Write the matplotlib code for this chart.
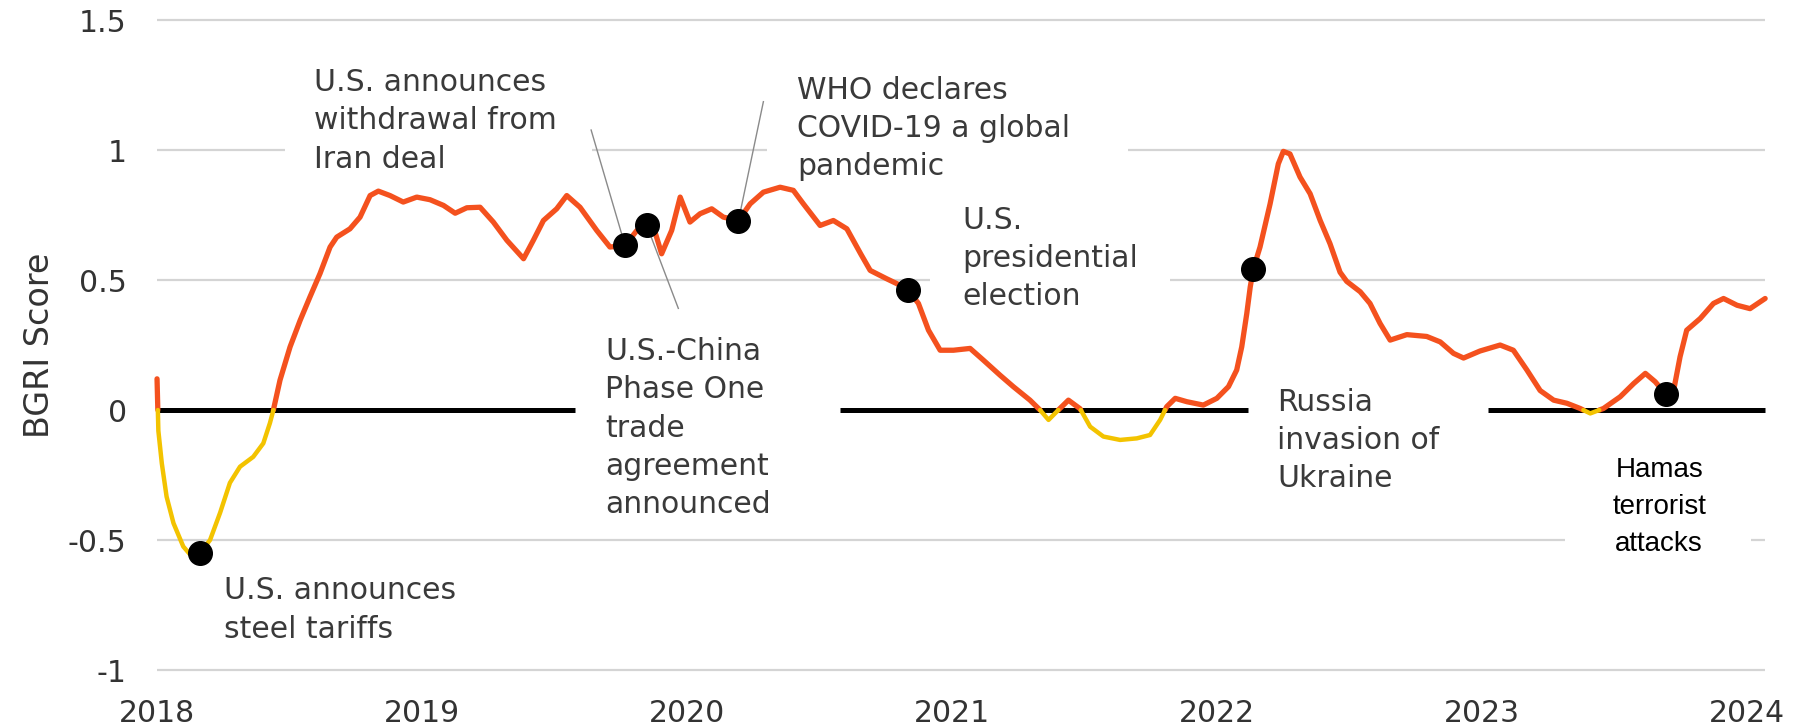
import matplotlib.pyplot as plt
import numpy as np

# BGRI score
years = [
    2018.000, 2018.005, 2018.018, 2018.036, 2018.062, 2018.099, 2018.131, 2018.162,
    2018.200, 2018.238, 2018.275, 2018.313, 2018.363, 2018.401, 2018.426, 2018.439,
    2018.464, 2018.502, 2018.540, 2018.577, 2018.615, 2018.653, 2018.678, 2018.728,
    2018.766, 2018.804, 2018.835, 2018.879, 2018.929, 2018.980, 2019.030, 2019.081,
    2019.125, 2019.169, 2019.219, 2019.269, 2019.320, 2019.383, 2019.420, 2019.458,
    2019.508, 2019.546, 2019.596, 2019.659, 2019.709, 2019.766, 2019.810, 2019.848,
    2019.879, 2019.904, 2019.942, 2019.974, 2020.011, 2020.049, 2020.093, 2020.137,
    2020.194, 2020.238, 2020.288, 2020.351, 2020.401, 2020.439, 2020.502, 2020.552,
    2020.603, 2020.655, 2020.691, 2020.753, 2020.804, 2020.835, 2020.873, 2020.911,
    2020.955, 2021.005, 2021.068, 2021.118, 2021.181, 2021.231, 2021.294, 2021.332,
    2021.364, 2021.401, 2021.439, 2021.483, 2021.521, 2021.571, 2021.634, 2021.697,
    2021.747, 2021.785, 2021.810, 2021.842, 2021.886, 2021.948, 2021.999, 2022.043,
    2022.074, 2022.093, 2022.112, 2022.125, 2022.137, 2022.162, 2022.200, 2022.231,
    2022.250, 2022.275, 2022.313, 2022.351, 2022.389, 2022.426, 2022.464, 2022.489,
    2022.540, 2022.577, 2022.615, 2022.653, 2022.716, 2022.791, 2022.842, 2022.892,
    2022.930, 2022.992, 2023.068, 2023.118, 2023.169, 2023.219, 2023.270, 2023.320,
    2023.370, 2023.408, 2023.458, 2023.521, 2023.572, 2023.616, 2023.653, 2023.694,
    2023.723, 2023.747, 2023.772, 2023.823, 2023.873, 2023.911, 2023.962, 2024.011,
    2024.068,
]
bgri = [
    0.120, -0.080, -0.205, -0.333, -0.435, -0.525, -0.563, -0.550,
    -0.500, -0.395, -0.280, -0.218, -0.180, -0.128, -0.050, 0.000,
    0.115, 0.243, 0.345, 0.435, 0.525, 0.627, 0.665, 0.697,
    0.742, 0.825, 0.842, 0.825, 0.800, 0.819, 0.809, 0.787,
    0.757, 0.778, 0.780, 0.723, 0.653, 0.582, 0.653, 0.729,
    0.774, 0.825, 0.780, 0.691, 0.627, 0.633, 0.690, 0.710,
    0.685, 0.601, 0.691, 0.819, 0.723, 0.755, 0.774, 0.742,
    0.729, 0.793, 0.838, 0.857, 0.845, 0.793, 0.710, 0.729,
    0.697, 0.601, 0.537, 0.505, 0.480, 0.461, 0.410, 0.307,
    0.230, 0.230, 0.237, 0.192, 0.134, 0.090, 0.038, 0.000,
    -0.038, 0.000, 0.038, 0.005, -0.064, -0.102, -0.115, -0.109,
    -0.096, -0.038, 0.013, 0.045, 0.032, 0.019, 0.045, 0.090,
    0.154, 0.243, 0.371, 0.473, 0.544, 0.627, 0.793, 0.947,
    0.995, 0.985, 0.896, 0.832, 0.729, 0.640, 0.530, 0.495,
    0.455, 0.410, 0.333, 0.269, 0.290, 0.283, 0.262, 0.218,
    0.200, 0.227, 0.250, 0.230, 0.154, 0.075, 0.038, 0.026,
    0.006, -0.013, 0.006, 0.051, 0.102, 0.141, 0.109, 0.060,
    0.077, 0.205, 0.307, 0.352, 0.410, 0.429, 0.403, 0.390,
    0.429,
]

# events marked with a dot
event_years = [2018.162, 2019.766, 2019.848, 2020.194, 2020.835, 2022.137, 2023.694]
event_labels = [
    "U.S. announces\nsteel tariffs",
    "U.S. announces\nwithdrawal from\nIran deal",
    "U.S.-China\nPhase One\ntrade\nagreement\nannounced",
    "WHO declares\nCOVID-19 a global\npandemic",
    "U.S.\npresidential\nelection",
    "Russia\ninvasion of\nUkraine",
    "Hamas\nterrorist\nattacks",
]

y_ticks = [-1, -0.5, 0, 0.5, 1, 1.5]
y_tick_labels = ["-1", "-0.5", "0", "0.5", "1", "1.5"]
x_ticks = [2018, 2019, 2020, 2021, 2022, 2023, 2024]

# layout: where each label sits (x, y, ha), and pointer lines
label_pos = [
    (2018.253, -0.640, "left"),
    (2018.592, 1.315, "left"),
    (2019.691, 0.280, "left"),
    (2020.415, 1.285, "left"),
    (2021.038, 0.785, "left"),
    (2022.226, 0.085, "left"),
    (2023.668, -0.180, "center"),
]
pointer_starts = {1: (2019.638, 1.077), 2: (2019.967, 0.391), 3: (2020.288, 1.186)}

x_start, x_end = 2018.0, 2024.068
# gridline pieces (gaps are left where labels sit)
grid_pieces = {
    1.5: [(x_start, x_end)],
    1.0: [(x_start, 2018.483), (2019.642, 2020.302), (2021.664, x_end)],
    0.5: [(x_start, 2020.917), (2021.823, x_end)],
    -0.5: [(x_start, 2023.313), (2024.015, x_end)],
    -1.0: [(x_start, x_end)],
}
zero_pieces = [(x_start, 2019.577), (2020.577, 2022.117), (2023.023, x_end)]

ORANGE = "#F4511E"
YELLOW = "#F3C300"
TEXT = "#3a3a3a"


def add_zero_crossings(x, y):
    xs, ys = [x[0]], [y[0]]
    for i in range(1, len(x)):
        if y[i - 1] * y[i] < 0:
            t = y[i - 1] / (y[i - 1] - y[i])
            xs.append(x[i - 1] + t * (x[i] - x[i - 1]))
            ys.append(0.0)
        xs.append(x[i])
        ys.append(y[i])
    return np.array(xs), np.array(ys)


fig = plt.figure(figsize=(18, 7.28), dpi=100)
ax = fig.add_axes([0.0843, 0.0725, 0.8981, 0.9071])
ax.set_xlim(2017.98, 2024.08)
ax.set_ylim(-1.02, 1.52)

# gridlines
for level, pieces in grid_pieces.items():
    for a, b in pieces:
        ax.hlines(level, a, b, color="#d4d4d4", lw=1.6, zorder=1)
for a, b in zero_pieces:
    ax.hlines(0, a, b, color="black", lw=3.6, zorder=2, capstyle="butt")

# the score line, orange above zero and yellow below
xs, ys = add_zero_crossings(years, bgri)
above = np.where(ys >= 0, ys, np.nan)
below = np.where(ys <= 0, ys, np.nan)
ax.plot(xs, above, color=ORANGE, lw=3.8, solid_joinstyle="round", solid_capstyle="round", zorder=3)
ax.plot(xs, below, color=YELLOW, lw=3.2, solid_joinstyle="round", solid_capstyle="round", zorder=3)

# event dots
event_vals = np.interp(event_years, years, bgri)
ax.plot(event_years, event_vals, "o", color="black", markersize=17, zorder=5)

# pointer lines
for i, (px, py) in pointer_starts.items():
    ax.plot([px, event_years[i]], [py, event_vals[i]], color="#8a8a8a", lw=1.0, zorder=4)

# labels
for i, label in enumerate(event_labels):
    tx, ty, ha = label_pos[i]
    if label.startswith("Hamas"):
        ax.text(tx, ty, label, ha=ha, va="top", fontsize=20, color="black",
                family=["Liberation Sans", "DejaVu Sans"], linespacing=1.55, zorder=6)
    else:
        ax.text(tx, ty, label, ha=ha, va="top", fontsize=21.5, color=TEXT,
                linespacing=1.4, zorder=6)

ax.set_yticks(y_ticks)
ax.set_yticklabels(y_tick_labels)
ax.set_xticks(x_ticks)
ax.set_xticklabels([str(y) for y in x_ticks])
ax.tick_params(axis="y", length=0, pad=18, labelsize=21.5, labelcolor="#333333")
ax.tick_params(axis="x", length=0, pad=17, labelsize=21.5, labelcolor="#333333")
for s in ax.spines.values():
    s.set_visible(False)

ax.set_ylabel("BGRI Score", fontsize=24, color="#333333")
ax.yaxis.set_label_coords(-0.059, 0.5)

fig.savefig("out.png", dpi=100, facecolor="white")
